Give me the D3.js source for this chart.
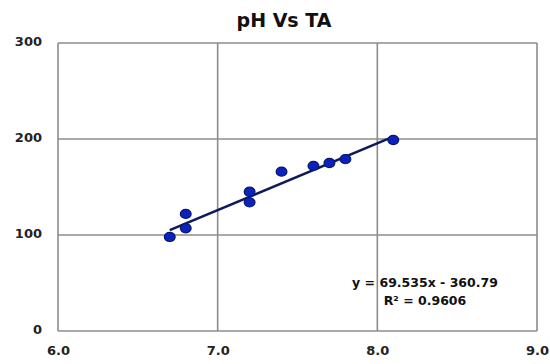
<!DOCTYPE html>
<html>
<head>
<meta charset="utf-8">
<script src="https://cdn.jsdelivr.net/npm/d3@7/dist/d3.min.js"></script>
<style>
  html, body { margin: 0; padding: 0; background: #fff; }
  svg { display: block; }
  text { font-family: "DejaVu Sans", Verdana, sans-serif; }
</style>
</head>
<body>
<div id="chart"></div>
<script>
// pH and total alkalinity samples
const phValues = [6.7, 6.8, 6.8, 7.2, 7.2, 7.4, 7.6, 7.7, 7.8, 8.1];
const taValues = [98, 122, 107, 145, 134, 166, 172, 175, 179, 199];

// Linear trendline coefficients (slope, intercept) and fit quality
const trendSlope = 69.535;
const trendIntercept = -360.79;
const rSquared = 0.9606;

const xTicks = [6, 7, 8, 9];
const yTicks = [0, 100, 200, 300];

const width = 550, height = 364;
const margin = { top: 43, right: 13, bottom: 33, left: 58 };

const svg = d3.select("#chart").append("svg")
  .attr("width", width)
  .attr("height", height);

const x = d3.scaleLinear().domain([6, 9]).range([margin.left, width - margin.right]);
const y = d3.scaleLinear().domain([0, 300]).range([height - margin.bottom, margin.top]);

// Title
svg.append("text")
  .attr("x", 284)
  .attr("y", 27)
  .attr("text-anchor", "middle")
  .attr("font-size", 19)
  .attr("font-weight", "bold")
  .attr("fill", "#111")
  .text("pH Vs TA");

// Gridlines
const grid = svg.append("g").attr("stroke", "#8c8c8c").attr("stroke-width", 1.6);
grid.selectAll("line.v").data(xTicks).join("line")
  .attr("x1", d => x(d)).attr("x2", d => x(d))
  .attr("y1", y(0)).attr("y2", y(300));
grid.selectAll("line.h").data(yTicks).join("line")
  .attr("x1", x(6)).attr("x2", x(9))
  .attr("y1", d => y(d)).attr("y2", d => y(d));

// Axes (labels only; lines come from the grid)
const xAxis = svg.append("g")
  .attr("transform", `translate(0,${y(0)})`)
  .call(d3.axisBottom(x).tickValues(xTicks).tickFormat(d3.format(".1f")).tickSize(0).tickPadding(15));
const yAxis = svg.append("g")
  .attr("transform", `translate(${x(6)},0)`)
  .call(d3.axisLeft(y).tickValues(yTicks).tickSize(0).tickPadding(16));
[xAxis, yAxis].forEach(a => {
  a.select(".domain").remove();
  a.selectAll("text")
    .attr("font-family", "\"DejaVu Sans\", Verdana, sans-serif")
    .attr("font-size", 13)
    .attr("font-weight", "bold")
    .attr("fill", "#222");
});
yAxis.selectAll("text").attr("dy", "0.22em");

// Trendline over the data range
const xMin = d3.min(phValues), xMax = d3.max(phValues);
svg.append("line")
  .attr("x1", x(xMin)).attr("y1", y(trendSlope * xMin + trendIntercept))
  .attr("x2", x(xMax)).attr("y2", y(trendSlope * xMax + trendIntercept))
  .attr("stroke", "#0e1a5c")
  .attr("stroke-width", 2.6);

// Data points
svg.append("g").selectAll("ellipse")
  .data(phValues.map((p, i) => [p, taValues[i]]))
  .join("ellipse")
  .attr("cx", d => x(d[0]))
  .attr("cy", d => y(d[1]))
  .attr("rx", 5.4)
  .attr("ry", 4.6)
  .attr("fill", "#0a23c0")
  .attr("stroke", "#0b1766")
  .attr("stroke-width", 1.2);

// Trendline equation
const eq = svg.append("g")
  .attr("font-size", 12.5)
  .attr("font-weight", "bold")
  .attr("fill", "#111");
eq.append("text")
  .attr("x", 425).attr("y", 287)
  .attr("text-anchor", "middle")
  .text(`y = ${trendSlope}x - ${Math.abs(trendIntercept)}`);
eq.append("text")
  .attr("x", 425).attr("y", 305)
  .attr("text-anchor", "middle")
  .text(`R² = ${rSquared}`);
</script>
</body>
</html>
